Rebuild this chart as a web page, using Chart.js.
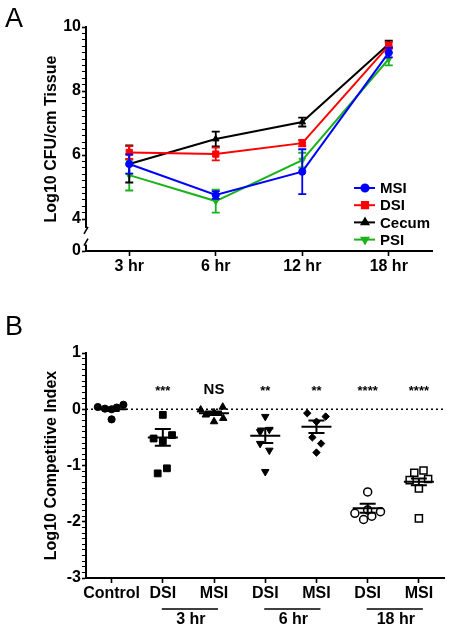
<!DOCTYPE html>
<html>
<head>
<meta charset="utf-8">
<script src="https://cdn.jsdelivr.net/npm/chart.js@4.4.1/dist/chart.umd.min.js"></script>
<style>
  html, body { margin: 0; padding: 0; background: #fff; }
  #wrap { position: relative; width: 451px; height: 632px; }
  canvas { position: absolute; left: 0; }
</style>
</head>
<body>
<div id="wrap">
  <canvas id="chartA" width="451" height="300" style="top:0"></canvas>
  <canvas id="chartB" width="451" height="332" style="top:300px"></canvas>
</div>
<script>
// ---- panel A data ----
const timeLabels = ['3 hr', '6 hr', '12 hr', '18 hr'];
const msiMean   = [5.72, 4.75, 5.48, 9.20];
const msiSem    = [0.30, 0.12, 0.70, 0.15];
const dsiMean   = [6.08, 6.03, 6.37, 9.42];
const dsiSem    = [0.20, 0.20, 0.10, 0.10];
const cecumMean = [5.72, 6.50, 7.03, 9.47];
const cecumSem  = [0.58, 0.23, 0.14, 0.10];
const psiMean   = [5.37, 4.56, 5.84, 9.00];
const psiSem    = [0.48, 0.36, 0.23, 0.20];
const yTickValsA = [3, 4, 6, 8, 10];          // 3 stands for the broken-axis "0"
const yTickTextA = ['0', '4', '6', '8', '10'];

// ---- panel B data ----
const ciLabels = ['Control', 'DSI', 'MSI', 'DSI', 'MSI', 'DSI', 'MSI'];
const ciValues = [
  [0.04, 0.01, 0.00, -0.18, 0.03, 0.08],
  [-0.10, -0.52, -0.57, -0.46, -1.14, -1.05],
  [-0.01, -0.10, -0.06, -0.22, 0.04, -0.16],
  [-0.13, -0.40, -0.36, -0.61, -0.73, -1.11],
  [-0.07, -0.13, -0.22, -0.50, -0.61, -0.77],
  [-1.47, -1.85, -1.96, -1.90, -1.82, -1.79],
  [-1.13, -1.09, -1.26, -1.24, -1.41, -1.94]
];
const ciJitter = [
  [-0.27, -0.13, 0, 0, 0.10, 0.23],
  [0, -0.18, 0, 0.18, -0.10, 0.08],
  [-0.26, -0.16, 0, 0, 0.17, 0.18],
  [0, -0.10, 0.08, -0.10, 0.08, 0],
  [-0.18, 0.18, 0, -0.08, 0.09, 0],
  [0, -0.25, -0.08, 0.08, 0.25, 0],
  [-0.09, 0.09, -0.18, 0.18, 0, 0]
];
const ciMean = [0.00, -0.50, -0.07, -0.47, -0.31, -1.76, -1.29];
const ciSem  = [0.03, 0.15, 0.03, 0.13, 0.11, 0.08, 0.06];
const sigLabels = ['', '***', 'NS', '**', '**', '****', '****'];
const timeGroups = ['3 hr', '6 hr', '18 hr'];
const timeGroupStart = [1, 3, 5];
const yTickValsB = [-3, -2, -1, 0, 1];

const FONT = "'Liberation Sans', Arial, sans-serif";
Chart.defaults.font.family = FONT;
Chart.defaults.color = '#000';

function drawMarker(ctx, style, radius, rotation, x, y) {
  if (Chart.helpers && Chart.helpers.drawPoint) {
    Chart.helpers.drawPoint(ctx, { pointStyle: style, radius: radius, rotation: rotation, borderWidth: 1 }, x, y);
  } else {
    ctx.beginPath(); ctx.arc(x, y, radius, 0, Math.PI * 2); ctx.fill();
  }
}

// panel letter
function panelTag(letter, y) {
  return {
    id: 'tag' + letter,
    afterDraw(chart) {
      const ctx = chart.ctx;
      ctx.save();
      ctx.fillStyle = '#000';
      ctx.font = '27px ' + FONT;
      ctx.textBaseline = 'alphabetic';
      ctx.fillText(letter, 5, y);
      ctx.restore();
    }
  };
}

// ---- panel A ----
const errorBars = {
  id: 'errorBars',
  afterDatasetDraw(chart, args) {
    const ds = chart.data.datasets[args.index];
    if (!ds.err) return;
    const y = chart.scales.y, ctx = chart.ctx;
    ctx.save();
    ctx.strokeStyle = ds.borderColor;
    ctx.lineWidth = 1.8;
    args.meta.data.forEach((pt, i) => {
      const hi = y.getPixelForValue(ds.data[i] + ds.err[i]);
      const lo = y.getPixelForValue(ds.data[i] - ds.err[i]);
      ctx.beginPath();
      ctx.moveTo(pt.x, hi); ctx.lineTo(pt.x, lo);
      ctx.moveTo(pt.x - 4, hi); ctx.lineTo(pt.x + 4, hi);
      ctx.moveTo(pt.x - 4, lo); ctx.lineTo(pt.x + 4, lo);
      ctx.stroke();
    });
    ctx.restore();
  }
};

const axisBreak = {
  id: 'axisBreak',
  afterDraw(chart) {
    const ctx = chart.ctx, y = chart.scales.y;
    const x0 = chart.chartArea.left;
    const top = y.getPixelForValue(3.72), bot = y.getPixelForValue(3.2);
    ctx.save();
    ctx.fillStyle = '#fff';
    ctx.fillRect(x0 - 3, top, 6, bot - top);
    ctx.strokeStyle = '#000';
    ctx.lineWidth = 1.6;
    ctx.beginPath();
    ctx.moveTo(x0 - 2, top + 6); ctx.lineTo(x0 + 2, top - 1);
    ctx.moveTo(x0 - 2, bot + 1); ctx.lineTo(x0 + 2, bot - 6);
    ctx.stroke();
    ctx.restore();
  }
};

const insideLegend = {
  id: 'insideLegend',
  afterDraw(chart) {
    const ctx = chart.ctx, area = chart.chartArea;
    const x0 = area.right - 78, y0 = area.bottom - 63;
    ctx.save();
    ctx.font = 'bold 15px ' + FONT;
    ctx.textBaseline = 'middle';
    chart.data.datasets.forEach((ds, i) => {
      const yy = y0 + i * 17.2;
      ctx.strokeStyle = ds.borderColor;
      ctx.fillStyle = ds.borderColor;
      ctx.lineWidth = 2;
      ctx.beginPath(); ctx.moveTo(x0, yy); ctx.lineTo(x0 + 21, yy); ctx.stroke();
      drawMarker(ctx, ds.pointStyle, ds.pointRadius, ds.pointRotation, x0 + 11, yy);
      ctx.fillStyle = '#000';
      ctx.fillText(ds.label, x0 + 26, yy + 1);
    });
    ctx.restore();
  }
};

function series(label, data, err, color, style, rot, r) {
  return {
    label: label, data: data, err: err,
    borderColor: color, backgroundColor: color,
    borderWidth: 2, tension: 0,
    pointStyle: style, pointRotation: rot, pointRadius: r, pointBorderWidth: 1
  };
}

new Chart(document.getElementById('chartA'), {
  type: 'line',
  data: {
    labels: timeLabels,
    datasets: [
      series('MSI', msiMean, msiSem, '#0000ff', 'circle', 0, 3.6),
      series('DSI', dsiMean, dsiSem, '#ff0000', 'rect', 0, 4.4),
      series('Cecum', cecumMean, cecumSem, '#000000', 'triangle', 0, 3.8),
      series('PSI', psiMean, psiSem, '#1cb21c', 'triangle', 180, 3.8)
    ]
  },
  options: {
    responsive: false,
    animation: false,
    layout: { padding: { top: 27, right: 19, left: 0, bottom: 0 } },
    plugins: { legend: { display: false }, tooltip: { enabled: false } },
    scales: {
      x: {
        type: 'category',
        offset: true,
        grid: { drawOnChartArea: false, offset: false, tickLength: 5, tickColor: '#000', tickWidth: 1.6 },
        border: { color: '#000', width: 2 },
        ticks: { color: '#000', padding: 1, font: { size: 16, weight: 'bold' } },
        afterFit(s) { s.height = 49; }
      },
      y: {
        min: 3, max: 10,
        afterBuildTicks(s) {
          const t = [{ value: 3 }];
          for (let k = 20; k <= 50; k++) t.push({ value: k / 5 });
          s.ticks = t;
        },
        ticks: {
          autoSkip: false, color: '#000', padding: 1,
          font: { size: 16, weight: 'bold' },
          callback(v) { const k = yTickValsA.indexOf(v); return k < 0 ? '' : yTickTextA[k]; }
        },
        grid: {
          drawOnChartArea: false, tickLength: 4, tickColor: '#000',
          tickWidth(c) { return yTickValsA.includes(c.tick.value) ? 1.6 : 1; }
        },
        border: { color: '#000', width: 2 },
        title: {
          display: true, text: 'Log10 CFU/cm Tissue', color: '#000',
          font: { size: 16, weight: 'bold' }, padding: { top: 42, bottom: 0 }
        },
        afterFit(s) { s.width = 86; }
      }
    }
  },
  plugins: [errorBars, axisBreak, insideLegend, panelTag('A', 27)]
});

// ---- panel B ----
const ciStyles = [
  { style: 'circle', r: 3.6, fill: '#000', rot: 0 },
  { style: 'rect', r: 4.8, fill: '#000', rot: 0 },
  { style: 'triangle', r: 4.3, fill: '#000', rot: 0 },
  { style: 'triangle', r: 4.3, fill: '#000', rot: 180 },
  { style: 'rectRot', r: 3.7, fill: '#000', rot: 0 },
  { style: 'circle', r: 4, fill: '#fff', rot: 0 },
  { style: 'rect', r: 5, fill: '#fff', rot: 0 }
];

const meanSem = {
  id: 'meanSem',
  beforeDatasetsDraw(chart) {
    const ctx = chart.ctx, y = chart.scales.y, area = chart.chartArea;
    const y0 = y.getPixelForValue(0);
    ctx.save();
    ctx.strokeStyle = '#000';
    ctx.lineWidth = 1.6;
    ctx.setLineDash([2, 3]);
    ctx.beginPath(); ctx.moveTo(area.left, y0); ctx.lineTo(area.right, y0); ctx.stroke();
    ctx.restore();
  },
  afterDatasetsDraw(chart) {
    const ctx = chart.ctx, x = chart.scales.x, y = chart.scales.y;
    ctx.save();
    ctx.strokeStyle = '#000';
    ctx.lineWidth = 2;
    ciMean.forEach((m, g) => {
      const px = x.getPixelForValue(g);
      const pm = y.getPixelForValue(m);
      const hi = y.getPixelForValue(m + ciSem[g]);
      const lo = y.getPixelForValue(m - ciSem[g]);
      ctx.beginPath();
      ctx.moveTo(px - 15, pm); ctx.lineTo(px + 15, pm);
      ctx.moveTo(px, hi); ctx.lineTo(px, lo);
      ctx.moveTo(px - 8, hi); ctx.lineTo(px + 8, hi);
      ctx.moveTo(px - 8, lo); ctx.lineTo(px + 8, lo);
      ctx.stroke();
    });
    // significance marks
    ctx.fillStyle = '#000';
    ctx.textAlign = 'center';
    ctx.textBaseline = 'alphabetic';
    const ys = y.getPixelForValue(0.28);
    sigLabels.forEach((s, g) => {
      if (!s) return;
      ctx.font = (s === 'NS' ? 'bold 15px ' : 'bold 13px ') + FONT;
      ctx.fillText(s, x.getPixelForValue(g), ys + (s === 'NS' ? 0 : 1));
    });
    ctx.restore();
  },
  afterDraw(chart) {
    const ctx = chart.ctx, x = chart.scales.x, area = chart.chartArea;
    const lineY = area.bottom + 31;
    ctx.save();
    ctx.strokeStyle = '#000';
    ctx.fillStyle = '#000';
    ctx.lineWidth = 1.6;
    ctx.font = 'bold 16px ' + FONT;
    ctx.textAlign = 'center';
    ctx.textBaseline = 'middle';
    timeGroups.forEach((t, i) => {
      const a = x.getPixelForValue(timeGroupStart[i]) - 1;
      const b = x.getPixelForValue(timeGroupStart[i] + 1) + 4;
      ctx.beginPath(); ctx.moveTo(a, lineY); ctx.lineTo(b, lineY); ctx.stroke();
      ctx.fillText(t, (a + b) / 2 + 1, lineY + 11);
    });
    ctx.restore();
  }
};

new Chart(document.getElementById('chartB'), {
  type: 'scatter',
  data: {
    datasets: ciValues.map((vals, g) => ({
      label: ciLabels[g],
      data: vals.map((v, i) => ({ x: g + ciJitter[g][i], y: v })),
      pointStyle: ciStyles[g].style,
      pointRotation: ciStyles[g].rot,
      pointRadius: ciStyles[g].r,
      backgroundColor: ciStyles[g].fill,
      borderColor: '#000',
      pointBorderWidth: ciStyles[g].fill === '#fff' ? 1.5 : 1
    }))
  },
  options: {
    responsive: false,
    animation: false,
    layout: { padding: { top: 53, right: 6, left: 0, bottom: 0 } },
    plugins: { legend: { display: false }, tooltip: { enabled: false } },
    scales: {
      x: {
        type: 'linear', min: -0.5, max: 6.5,
        afterBuildTicks(s) { s.ticks = ciLabels.map((l, i) => ({ value: i })); },
        ticks: {
          autoSkip: false, maxRotation: 0, color: '#000', padding: 1,
          font: { size: 16, weight: 'bold' },
          callback(v) { return ciLabels[v]; }
        },
        grid: { drawOnChartArea: false, tickLength: 5, tickColor: '#000', tickWidth: 1.6 },
        border: { color: '#000', width: 2 },
        afterFit(s) { s.height = 54; }
      },
      y: {
        min: -3, max: 1,
        afterBuildTicks(s) {
          const t = [];
          for (let k = -30; k <= 10; k++) t.push({ value: k / 10 });
          s.ticks = t;
        },
        ticks: {
          autoSkip: false, color: '#000', padding: 1,
          font: { size: 16, weight: 'bold' },
          callback(v) { return yTickValsB.includes(v) ? String(v) : ''; }
        },
        grid: {
          drawOnChartArea: false, tickLength: 4, tickColor: '#000',
          tickWidth(c) { return yTickValsB.includes(c.tick.value) ? 1.6 : 1; }
        },
        border: { color: '#000', width: 2 },
        title: {
          display: true, text: 'Log10 Competitive Index', color: '#000',
          font: { size: 16, weight: 'bold' }, padding: { top: 42, bottom: 0 }
        },
        afterFit(s) { s.width = 86; }
      }
    }
  },
  plugins: [meanSem, panelTag('B', 35)]
});
</script>
</body>
</html>
